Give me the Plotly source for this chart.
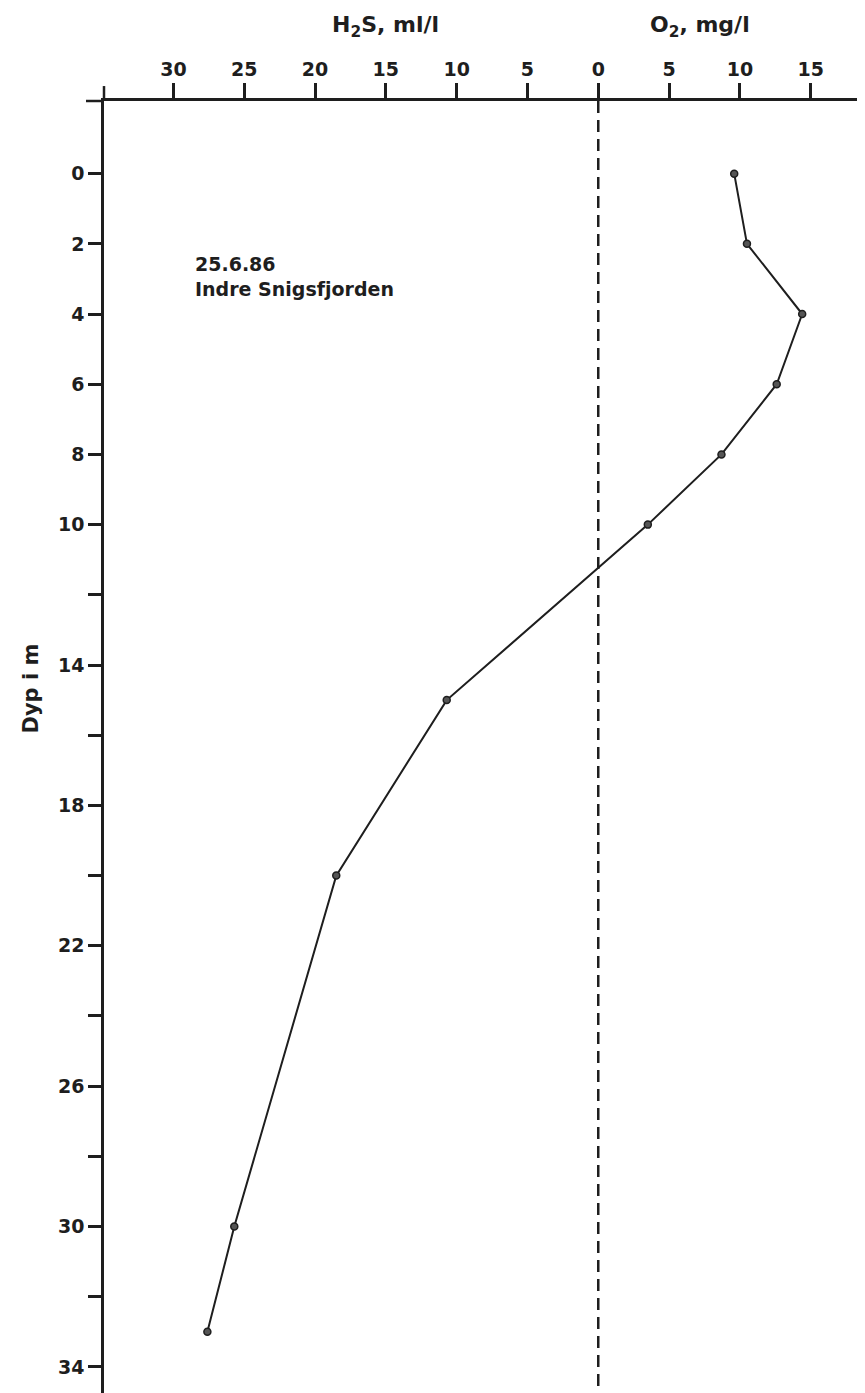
import plotly.graph_objects as go

# O2 profile (mg/l), upper water column
o2_depth = [0, 2, 4, 6, 8, 10]
o2_value = [9.6, 10.5, 14.4, 12.6, 8.7, 3.5]

# H2S profile (ml/l), plotted to the left of zero
h2s_depth = [15, 20, 30, 33]
h2s_value = [10.7, 18.5, 25.7, 27.6]

# x tick values (H2S negative side, O2 positive side) and labels
x_tickvals = [-30, -25, -20, -15, -10, -5, 0, 5, 10, 15]
x_ticktext = ["30", "25", "20", "15", "10", "5", "0", "5", "10", "15"]

# labelled depth ticks and unlabelled intermediate ticks
y_tickvals = [0, 2, 4, 6, 8, 10, 14, 18, 22, 26, 30, 34]
y_ticktext = [str(v) for v in y_tickvals]
y_minor_vals = [12, 16, 20, 24, 28, 32]

# combined profile: O2 positive, H2S negative
prof_x = o2_value + [-v for v in h2s_value]
prof_y = o2_depth + h2s_depth

FONT = "DejaVu Sans"
INK = "#1e1e1e"

fig = go.Figure()

# zero dashed line
fig.add_trace(go.Scatter(
    x=[0, 0], y=[-2.07, 35], mode="lines",
    line=dict(color=INK, width=2.5, dash="12px,7px"),
    hoverinfo="skip", showlegend=False))

fig.add_trace(go.Scatter(
    x=prof_x, y=prof_y, mode="lines+markers",
    line=dict(color=INK, width=2),
    marker=dict(size=7, color="#555555", line=dict(color=INK, width=1.5)),
    showlegend=False))

fig.update_layout(
    width=865, height=1393,
    margin=dict(l=96, r=0, t=93, b=0),
    paper_bgcolor="white", plot_bgcolor="white",
    font=dict(family=FONT, color=INK, size=19, weight="bold"),
    xaxis=dict(
        side="top", range=[-34.9, 19.4],
        tickmode="array", tickvals=x_tickvals, ticktext=x_ticktext,
        ticks="outside", ticklen=15, tickwidth=2.5, tickcolor=INK,
        showline=True, linewidth=2.5, linecolor=INK,
        showgrid=False, zeroline=False,
        tickfont=dict(family=FONT, size=19, color=INK, weight="bold"),
    ),
    yaxis=dict(
        range=[34.97, -2.07],
        tickmode="array", tickvals=y_tickvals, ticktext=y_ticktext,
        ticks="outside", ticklen=13, tickwidth=2.5, tickcolor=INK,
        minor=dict(ticks="outside", ticklen=13, tickwidth=2.5,
                   tickcolor=INK, tickmode="array", tickvals=y_minor_vals,
                   showgrid=False),
        showline=True, linewidth=2.5, linecolor=INK,
        showgrid=False, zeroline=False,
        tickfont=dict(family=FONT, size=19, color=INK, weight="bold"),
    ),
)

# axis line extensions beyond the corner
fig.add_shape(type="line", xref="paper", yref="paper",
              x0=-0.0234, x1=0, y0=1, y1=1, line=dict(color=INK, width=2.5))
fig.add_shape(type="line", xref="paper", yref="paper",
              x0=0, x1=0, y0=1, y1=1.0115, line=dict(color=INK, width=2.5))

# axis titles
fig.add_annotation(x=-15, y=1.057, xref="x", yref="paper",
                   text="H<sub>2</sub>S, ml/l", showarrow=False,
                   xanchor="center", yanchor="middle",
                   font=dict(family=FONT, size=22, color=INK, weight="bold"))
fig.add_annotation(x=7.2, y=1.057, xref="x", yref="paper",
                   text="O<sub>2</sub>, mg/l", showarrow=False,
                   xanchor="center", yanchor="middle",
                   font=dict(family=FONT, size=22, color=INK, weight="bold"))
fig.add_annotation(x=-0.095, y=0.548, xref="paper", yref="paper",
                   text="Dyp i m", textangle=-90, showarrow=False,
                   xanchor="center", yanchor="middle",
                   font=dict(family=FONT, size=21, color=INK, weight="bold"))

# station label
fig.add_annotation(x=-28.6, y=2.2, xref="x", yref="y",
                   text="25.6.86<br>Indre Snigsfjorden", align="left",
                   xanchor="left", yanchor="top", showarrow=False,
                   font=dict(family=FONT, size=19, color=INK, weight="bold"))

fig.write_html("out.html")
